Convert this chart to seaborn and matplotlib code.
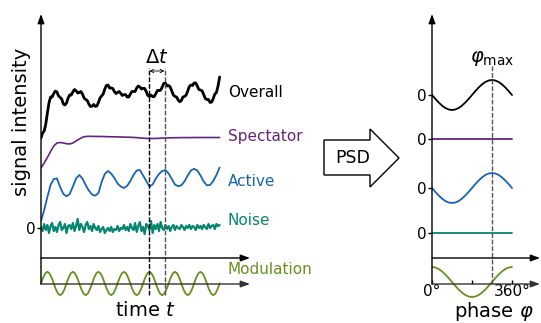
import numpy as np
import matplotlib
matplotlib.use("Agg")
import matplotlib.pyplot as plt
import seaborn as sns
from matplotlib.patches import Polygon

# ---- time-domain signals (time in modulation periods, intensity in a.u.) ----
overall = [
    9.0, 9.5, 9.7, 10.4, 11.5, 12.5, 13.1, 13.1, 13.45, 13.7,
    13.6, 13.2, 13.05, 12.9, 12.4, 12.3, 12.5, 13.0, 13.3, 13.3,
    13.62, 13.85, 13.73, 13.5, 13.55, 13.65, 13.4, 13.0, 12.85, 12.75,
    12.4, 12.15, 12.18, 12.35, 12.17, 12.2, 12.55, 13.0, 13.2, 13.4,
    13.9, 14.25, 14.3, 14.0, 14.0, 13.95, 13.65, 13.45, 13.55, 13.65,
    13.47, 13.25, 13.33, 13.35, 13.1, 13.1, 13.4, 13.65, 13.65, 13.65,
    14.0, 14.2, 14.1, 13.9, 13.97, 13.95, 13.63, 13.25, 13.15, 13.3,
    13.13, 13.15, 13.43, 13.75, 13.75, 13.78, 14.1, 14.45, 14.5, 14.2,
    14.25, 14.1, 13.7, 13.3, 13.15, 13.1, 12.8, 12.62, 12.75, 13.1,
    13.15, 13.3, 13.7, 14.15, 14.3, 14.25, 14.5, 14.5, 14.2, 13.85,
    13.8, 13.72, 13.35, 12.95, 12.85, 12.85, 12.55, 12.6, 12.95, 13.4,
    13.55, 14.2, 15.1]

spectator = [
    6.0, 6.5, 7.05, 7.65, 8.2, 8.5, 8.55, 8.5, 8.43, 8.4,
    8.5, 8.7, 8.9, 9.07, 9.15, 9.17, 9.16, 9.16, 9.15, 9.15,
    9.14, 9.13, 9.12, 9.12, 9.11, 9.10, 9.09, 9.08, 9.07, 9.06,
    9.04, 9.01, 8.98, 8.96, 8.95, 8.95, 8.96, 8.97, 8.99, 9.0,
    9.01, 9.02, 9.03, 9.03, 9.04, 9.04, 9.04, 9.04, 9.05, 9.05,
    9.05, 9.05, 9.05, 9.05, 9.05, 9.05, 9.05]

active = [
    0.7, 1.8, 3.1, 4.3, 4.9, 4.95, 4.1, 3.4, 3.17, 3.4,
    4.15, 4.95, 5.3, 4.95, 4.3, 3.75, 3.35, 3.23, 3.5, 4.6,
    5.4, 5.7, 5.45, 5.0, 4.45, 4.15, 4.0, 4.2, 4.7, 5.3,
    5.75, 5.8, 5.25, 4.7, 4.15, 4.35, 4.95, 5.4, 5.7, 5.8,
    5.45, 4.9, 4.35, 4.17, 4.27, 4.67, 5.25, 5.75, 5.92, 5.75,
    5.25, 4.65, 4.27, 4.3, 4.7, 5.3, 6.05]

noise = [
    0.1, -0.3, 0.4, -0.2, 0.3, -0.5, 0.2, 0.5, -0.3, 0.1,
    -0.4, 0.3, 0.6, -0.2, 0.0, 0.4, -0.5, 0.2, 0.3, -0.1,
    0.5, -0.3, 0.2, 0.9, -0.2, 0.4, 0.1, -0.4, 0.3, 0.6,
    -0.1, 0.2, -0.3, 0.4, 0.0, -0.2,
    0.2, -0.4, -0.1, 0.1, -0.5, -0.2, 0.0, -0.3, 0.1, -0.4,
    -0.1, -0.2, 0.2, -0.3, 0.0, -0.1, 0.3, -0.2,
    0.1, -0.3, 0.4, 0.0, -0.2, 0.5, -0.4, 0.2, 0.6, -0.3,
    0.1, -0.6, 0.4, 0.2, -0.2, 0.7, -0.5, 0.3, -0.1, 0.4,
    -0.3, 0.6, 0.0, -0.2, 0.3, -0.1, 0.2, -0.3, 0.1, 0.3,
    -0.2, 0.2, 0.0, -0.1, 0.3, 0.1, -0.2, 0.2, 0.0, 0.3,
    -0.1, 0.2, 0.1, -0.2, 0.3, 0.0, 0.2, -0.1, 0.3, 0.1,
    -0.1, 0.4, 0.0, 0.2, 0.3, -0.1, 0.4, 0.2, 0.3]

# one period of the excitation, sampled every 30 degrees
modulation_period = [0.0, 0.585, 1.013, 1.17, 1.013, 0.585,
                     0.0, -0.585, -1.013, -1.17, -1.013, -0.585]
n_periods = 7

# delay between excitation maximum and response maximum
t_delay = [4.25, 4.84]

# ---- phase-domain (PSD) responses ----
phase_deg = list(range(0, 361, 15))
psd_overall = [0.0, -0.39, -0.75, -1.06, -1.3, -1.45, -1.5, -1.45, -1.3,
               -1.06, -0.75, -0.39, 0.0, 0.39, 0.75, 1.06, 1.3, 1.45, 1.5,
               1.45, 1.3, 1.06, 0.75, 0.39, 0.0]
psd_spectator = [0.0] * 25
psd_active = [0.0, -0.39, -0.75, -1.06, -1.3, -1.45, -1.5, -1.45, -1.3,
              -1.06, -0.75, -0.39, 0.0, 0.39, 0.75, 1.06, 1.3, 1.45, 1.5,
              1.45, 1.3, 1.06, 0.75, 0.39, 0.0]
psd_noise = [0.0] * 25
psd_modulation = [1.5, 1.45, 1.3, 1.06, 0.75, 0.39, 0.0, -0.39, -0.75, -1.06,
                  -1.3, -1.45, -1.5, -1.45, -1.3, -1.06, -0.75, -0.39, 0.0,
                  0.39, 0.75, 1.06, 1.3, 1.45, 1.5]
phi_max = 270

series_names = ["Overall", "Spectator", "Active", "Noise", "Modulation"]
colors = {"Overall": "#000000", "Spectator": "#65237f", "Active": "#1763b4",
          "Noise": "#05866f", "Modulation": "#6a8f1f"}

# ---- layout ----
sns.set_style("white")
plt.rcParams["font.family"] = ["DejaVu Sans"]
plt.rcParams["mathtext.fontset"] = "dejavusans"
for key in ["text.color", "axes.labelcolor", "xtick.color", "ytick.color"]:
    plt.rcParams[key] = "black"

W, H = 541, 323
fig = plt.figure(figsize=(W / 100, H / 100), dpi=100)


def px_box(x0, x1, ytop, ybot):
    return [x0 / W, 1 - ybot / H, (x1 - x0) / W, (ybot - ytop) / H]


Y_LO, Y_HI = -5.6, 21.4
AXIS_UP = -3.0
arrow_kw = dict(arrowstyle="-|>,head_length=0.55,head_width=0.2",
                lw=1.0, shrinkA=0, shrinkB=0)

# ---------------- time domain ----------------
axL = fig.add_axes(px_box(41, 250, 14, 284))
T_MAX = 8.19
axL.set_xlim(0, T_MAX)
axL.set_ylim(Y_LO, Y_HI)
for s in axL.spines.values():
    s.set_visible(False)

t_fine = np.linspace(0, n_periods, len(overall))
t_coarse = np.linspace(0, n_periods, len(active))
t_noise = np.linspace(0, n_periods, len(noise))
mod_full = list(np.tile(modulation_period, n_periods)) + [modulation_period[0]]
t_mod = np.linspace(0, n_periods, len(mod_full))

sns.lineplot(x=t_fine, y=overall, ax=axL, color=colors["Overall"], lw=2.0)
sns.lineplot(x=t_coarse, y=spectator, ax=axL, color=colors["Spectator"], lw=1.2)
sns.lineplot(x=t_coarse, y=active, ax=axL, color=colors["Active"], lw=1.3)
sns.lineplot(x=t_noise, y=noise, ax=axL, color=colors["Noise"], lw=1.6)
sns.lineplot(x=t_mod, y=np.array(mod_full) + Y_LO + 0.05, ax=axL,
             color=colors["Modulation"], lw=1.3, clip_on=False)

label_y = {"Overall": 13.6, "Spectator": 9.2, "Active": 4.7,
           "Noise": 0.8, "Modulation": -4.2}
for name in series_names:
    axL.text(7.32, label_y[name], name, color=colors[name], fontsize=11,
             va="center", ha="left")

axL.annotate("", xy=(0, Y_HI), xytext=(0, Y_LO), arrowprops=dict(arrow_kw, color="k"),
             annotation_clip=False)
axL.annotate("", xy=(T_MAX, AXIS_UP), xytext=(0, AXIS_UP),
             arrowprops=dict(arrow_kw, color="k"), annotation_clip=False)
axL.annotate("", xy=(T_MAX, Y_LO), xytext=(0, Y_LO),
             arrowprops=dict(arrow_kw, color="#333333"), annotation_clip=False)

axL.vlines(t_delay, -6.7, 16.0, colors=["#000000", "#555555"],
           linestyles=[(0, (3.5, 1.3))], lw=1.0, clip_on=False)
axL.annotate("", xy=(t_delay[1], 15.7), xytext=(t_delay[0], 15.7),
             arrowprops=dict(arrowstyle="<->,head_length=0.25,head_width=0.12",
                             lw=0.6, color="k", shrinkA=0, shrinkB=0))
axL.text(np.mean(t_delay), 17.05, r"$\Delta t$", ha="center", va="center",
         fontsize=14)

axL.set_xticks([])
axL.set_yticks([0])
axL.set_yticklabels(["0"])
axL.tick_params(axis="y", left=True, length=3, width=1, pad=1, labelsize=11)
axL.set_ylabel("signal intensity", fontsize=14)
axL.yaxis.set_label_coords(-0.048, 0.6)
axL.set_xlabel(r"time $t$", fontsize=14)
axL.xaxis.set_label_coords(0.5, -0.064)

# ---------------- PSD arrow ----------------
arrow_px = [(324, 140), (370, 140), (370, 129), (399, 158),
            (370, 187), (370, 175), (324, 175)]
fig.add_artist(Polygon([(x / W, 1 - y / H) for x, y in arrow_px],
                       closed=True, fc="white", ec="black", lw=1.0,
                       transform=fig.transFigure))
fig.text(353 / W, 1 - 158 / H, "PSD", ha="center", va="center", fontsize=12.5)

# ---------------- phase domain ----------------
axR = fig.add_axes(px_box(432, 540, 14, 284))
PHI_MAX_AX = 486
axR.set_xlim(0, PHI_MAX_AX)
axR.set_ylim(Y_LO, Y_HI)
for s in axR.spines.values():
    s.set_visible(False)

psd_base = {"Overall": 13.3, "Spectator": 8.9, "Active": 4.0, "Noise": -0.5}
psd_vals = {"Overall": psd_overall, "Spectator": psd_spectator,
            "Active": psd_active, "Noise": psd_noise}
for name in ["Overall", "Spectator", "Active", "Noise"]:
    sns.lineplot(x=phase_deg, y=np.array(psd_vals[name]) + psd_base[name],
                 ax=axR, color=colors[name], lw=1.3)
sns.lineplot(x=phase_deg, y=np.array(psd_modulation) + Y_LO + 0.2, ax=axR,
             color=colors["Modulation"], lw=1.3, clip_on=False)

axR.annotate("", xy=(0, Y_HI), xytext=(0, Y_LO), arrowprops=dict(arrow_kw, color="k"),
             annotation_clip=False)
axR.annotate("", xy=(PHI_MAX_AX, AXIS_UP), xytext=(0, AXIS_UP),
             arrowprops=dict(arrow_kw, color="k"), annotation_clip=False)
axR.annotate("", xy=(PHI_MAX_AX, Y_LO), xytext=(0, Y_LO),
             arrowprops=dict(arrow_kw, color="#333333"), annotation_clip=False)

axR.vlines([phi_max], Y_LO, 16.2, colors="#555555",
           linestyles=[(0, (3.5, 1.3))], lw=1.0)
axR.text(phi_max, 17.0, r"$\varphi_{\mathrm{max}}$", ha="center", va="center",
         fontsize=14)

axR.set_yticks(list(psd_base.values()))
axR.set_yticklabels(["0"] * 4)
axR.tick_params(axis="y", left=True, length=3, width=1, pad=1, labelsize=11)
axR.set_xticks([0, 180, 360])
axR.set_xticklabels(["0°", "", "360°"])
axR.tick_params(axis="x", bottom=True, direction="in", length=3, width=1,
                pad=0, labelsize=11)
axR.set_xlabel(r"phase $\varphi$", fontsize=14)
axR.xaxis.set_label_coords(0.57, -0.058)

fig.savefig("out.png", dpi=100)
